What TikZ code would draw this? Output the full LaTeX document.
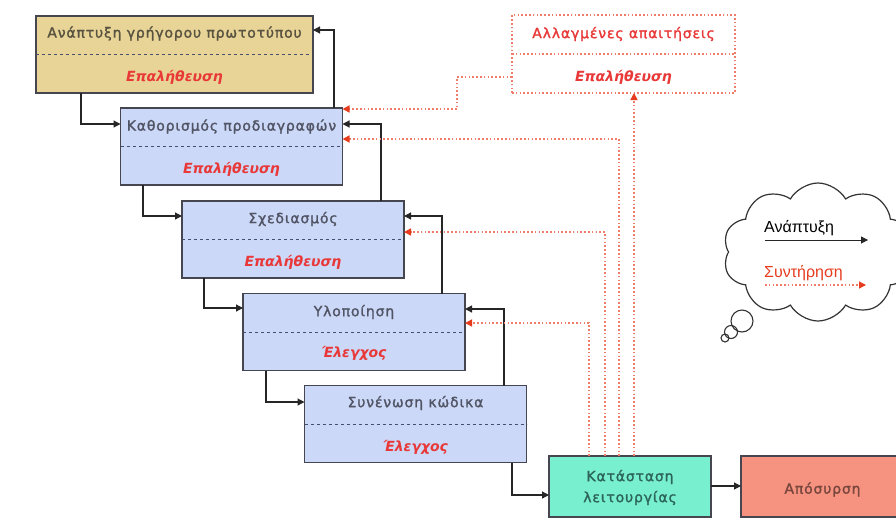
\documentclass[tikz,border=0pt]{standalone}
\usepackage{fontspec}
\setmainfont{DejaVu Sans}
\newfontfamily\titlefont[LetterSpace=6,FakeBold=1.6]{DejaVu Sans}
\newfontfamily\legendfont{Liberation Sans}
\usetikzlibrary{arrows.meta,shapes.symbols}
\definecolor{tanfill}{RGB}{232,212,150}
\definecolor{bluefill}{RGB}{204,216,248}
\definecolor{greenfill}{RGB}{120,240,208}
\definecolor{salmonfill}{RGB}{246,146,128}
\definecolor{boxedge}{RGB}{70,70,80}
\definecolor{titlegray}{RGB}{80,84,100}
\definecolor{olivegray}{RGB}{88,82,64}
\definecolor{verred}{RGB}{232,56,56}
\definecolor{dotred}{RGB}{238,125,105}
\definecolor{tipred}{RGB}{230,60,30}
\definecolor{divblue}{RGB}{70,80,110}
\definecolor{opteal}{RGB}{45,100,88}
\definecolor{retbrown}{RGB}{120,70,60}
\begin{document}
\begin{tikzpicture}[x=1pt,y=-1pt,
  phase/.style={draw=boxedge, line width=1.3pt, fill=bluefill, minimum width=222pt, minimum height=77pt, inner sep=0pt, outer sep=0pt},
  title/.style={font=\titlefont\fontsize{14}{16}\selectfont, text=titlegray, inner sep=0pt},
  check/.style={font=\fontsize{14}{16}\selectfont\bfseries\itshape, text=verred, inner sep=0pt},
  divider/.style={dashed, draw=divblue, line width=0.9pt},
  reddots/.style={draw=dotred, line width=1.5pt, dash pattern=on 1.6pt off 2.2pt},
  blk/.style={draw=black!85, line width=1.2pt, -{Triangle[length=7pt,width=7pt]}},
  rdot/.style={reddots, -{Triangle[length=7pt,width=7pt,color=tipred,sep=0pt]}},
]
\useasboundingbox (0,0) rectangle (896,523);
\clip (0,0) rectangle (896,523);
\fill[white] (0,0) rectangle (896,523);

% boxes
\node[phase, fill=tanfill, minimum width=277pt] (b1) at (174.5,54.5) {};
\node[phase] (b2) at (231.5,146.5) {};
\node[phase] (b3) at (293,239.5) {};
\node[phase] (b4) at (354,332) {};
\node[phase] (b5) at (415.5,424) {};
\node[phase, fill=white, reddots, minimum width=223pt, minimum height=78pt] (ch) at (623.5,54) {};
\node[phase, fill=greenfill, minimum width=162pt, minimum height=61pt] (op) at (630,486.5) {};
\node[phase, fill=salmonfill, minimum width=165pt, minimum height=61pt] (ret) at (823.5,486.5) {};

% dividers
\foreach \b in {b1,b2,b3,b4,b5} \draw[divider] (\b.west) -- (\b.east);
\draw[reddots] (ch.west) -- (ch.east);

% texts
\node[title, text=olivegray] (b1t) at ([yshift=21pt]b1.center) {Ανάπτυξη γρήγορου πρωτοτύπου};
\node[check] (b1c) at ([yshift=-22.5pt]b1.center) {Επαλήθευση};
\node[title] (b2t) at ([yshift=20pt]b2.center) {Καθορισμός προδιαγραφών};
\node[check] (b2c) at ([yshift=-23pt]b2.center) {Επαλήθευση};
\node[title] (b3t) at ([yshift=20.5pt]b3.center) {Σχεδιασμός};
\node[check] (b3c) at ([yshift=-22.5pt]b3.center) {Επαλήθευση};
\node[title] (b4t) at ([yshift=20pt]b4.center) {Υλοποίηση};
\node[check] (b4c) at ([yshift=-21pt]b4.center) {Έλεγχος};
\node[title] (b5t) at ([yshift=21pt]b5.center) {Συνένωση κώδικα};
\node[check] (b5c) at ([yshift=-23pt]b5.center) {Έλεγχος};
\node[title, text=verred] (cht) at ([yshift=20pt]ch.center) {Αλλαγμένες απαιτήσεις};
\node[check] (chc) at ([yshift=-23pt]ch.center) {Επαλήθευση};
\node[title, text=opteal, align=center, font=\titlefont\fontsize{14}{21}\selectfont] (opt) at ([yshift=-1pt]op.center) {Κατάσταση\\λειτουργίας};
\node[title, text=retbrown, font=\titlefont\fontsize{14}{16}\selectfont] (rett) at ([xshift=-1pt,yshift=-3pt]ret.center) {Απόσυρση};

% black connectors
\draw[blk] (81,0 |- b1.south) |- (b2.west |- 0,124);
\draw[blk] (334,0 |- b2.north) |- (b1.east |- 0,30);
\draw[blk] (381,0 |- b3.north) |- (b2.east |- 0,124);
\draw[blk] (143,0 |- b2.south) |- (b3.west |- 0,216);
\draw[blk] (442,0 |- b4.north) |- (b3.east |- 0,216);
\draw[blk] (204,0 |- b3.south) |- (b4.west |- 0,308);
\draw[blk] (504,0 |- b5.north) |- (b4.east |- 0,309);
\draw[blk] (266,0 |- b4.south) |- (b5.west |- 0,402);
\draw[blk] (512,0 |- b5.south) |- (op.west |- 0,495);
\draw[blk] (op.east |- 0,486) -- (ret.west |- 0,486);

% red dotted connectors
\draw[rdot] (ch.west |- 0,77) -| (457,109) -- (b2.east |- 0,109);
\draw[rdot] (619,0 |- op.north) |- (b2.east |- 0,139);
\draw[rdot] (605,0 |- op.north) |- (b3.east |- 0,232);
\draw[rdot] (589,0 |- op.north) |- (b4.east |- 0,323);
\draw[rdot] (634,0 |- op.north) -- (634,0 |- ch.south);

% legend cloud
\node[cloud, draw=black!80, line width=1.2pt, cloud puffs=10, cloud puff arc=120, aspect=1.35, minimum width=190pt, minimum height=138pt] (cloud) at (818,252) {};
\node[circle, draw=black!80, line width=1.1pt, minimum size=22pt, inner sep=0pt] (bub1) at (742,321) {};
\node[circle, draw=black!80, line width=1.1pt, minimum size=13pt, inner sep=0pt] (bub2) at (731,332) {};
\node[circle, draw=black!80, line width=1.1pt, minimum size=8pt, inner sep=0pt] (bub3) at (725,338) {};
\node[font=\legendfont\fontsize{16}{18}\selectfont, anchor=west, inner sep=0pt] (lg1) at (764,228) {Ανάπτυξη};
\node[font=\legendfont\fontsize{16}{18}\selectfont, anchor=west, inner sep=0pt, text=tipred] (lg2) at (764,273) {Συντήρηση};
\coordinate (l1s) at (765,240);
\coordinate (l1e) at (868,240);
\coordinate (l2s) at (765,285);
\coordinate (l2e) at (866,285);
\draw[blk, line width=1pt] (l1s) -- (l1e);
\draw[rdot, line width=1.2pt] (l2s) -- (l2e);
\end{tikzpicture}
\end{document}
